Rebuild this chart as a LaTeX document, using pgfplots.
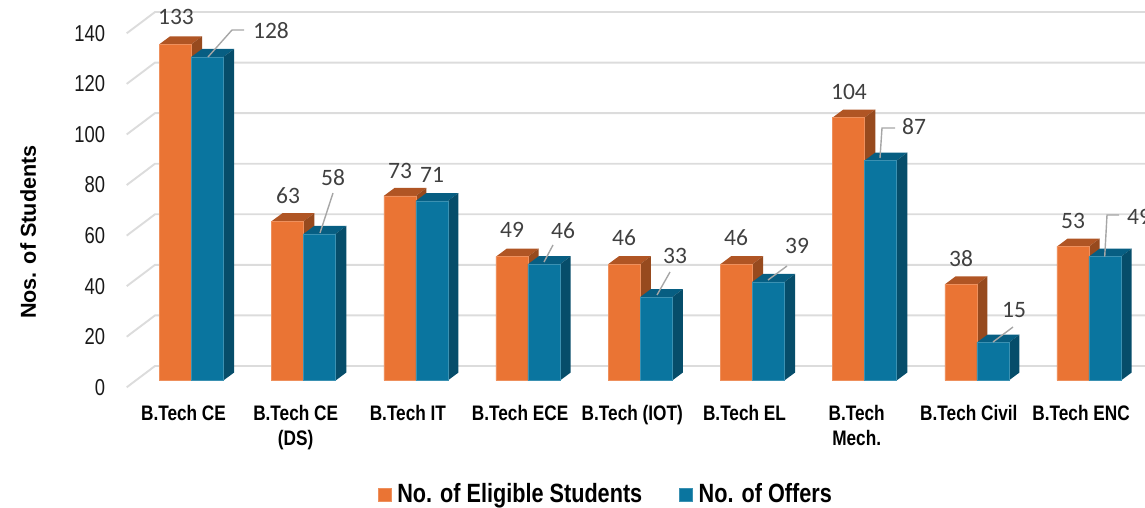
\documentclass[border=0pt]{standalone}
\usepackage{fontspec}
\usepackage{pgfplots}
\pgfplotsset{compat=1.18}
\setmainfont{Liberation Sans}
\newfontfamily\lab[FakeStretch=.82]{Liberation Sans}
\newfontfamily\tck[FakeStretch=.8]{Liberation Sans}
\newfontfamily\val{Carlito}
\definecolor{ofront}{HTML}{EA7434}
\definecolor{otop}{HTML}{B05524}
\definecolor{oside}{HTML}{974A1E}
\definecolor{bfront}{HTML}{0A759F}
\definecolor{btop}{HTML}{075E82}
\definecolor{bside}{HTML}{064D6A}
\definecolor{gridc}{HTML}{DCDCDC}
\definecolor{vtext}{HTML}{404040}
\definecolor{leader}{HTML}{A6A6A6}

\pgfplotsset{
  front/.style={ybar,bar width=0.2852,
    legend image code/.code={\fill[##1] (0pt,-7pt) rectangle (13pt,6pt);\path (17pt,0pt);}},
}
% back wall grid line with its slanted floor part
\newcommand\wall[1]{%
  \pgfmathsetmacro\ya{#1-2.69}\pgfmathsetmacro\yb{#1+5.74}%
  \edef\tmp{\noexpand\addplot[gridc,line width=1.9pt,forget plot] coordinates
    {(-0.5766,\ya) (-0.3244,\yb) (8.4991,\yb)};}\tmp}
% top and side face of one bar: index, value, shift, top colour, side colour
\newcommand\depth[5]{%
  \pgfmathsetmacro\xa{#1+#3-0.1426}\pgfmathsetmacro\xb{#1+#3+0.1426}%
  \pgfmathsetmacro\xc{\xa+0.0954}\pgfmathsetmacro\xd{\xb+0.0954}%
  \pgfmathsetmacro\yt{#2+3.16}%
  \edef\tmp{\noexpand\addplot[fill=#4,draw=none,forget plot] coordinates
    {(\xa,#2) (\xc,\yt) (\xd,\yt) (\xb,#2)} --cycle;
    \noexpand\addplot[fill=#5,draw=none,forget plot] coordinates
    {(\xb,0) (\xd,3.16) (\xd,\yt) (\xb,#2)} --cycle;}\tmp}

\begin{document}
\begin{tikzpicture}
\path[use as bounding box] (0,0) rectangle (1145pt,507pt);
\begin{axis}[
  at={(126.7pt,118.92pt)},anchor=south west,
  scale only axis,width=1018.3pt,height=388.08pt,
  xmin=-0.5766,xmax=8.4991,ymin=-3,ymax=150.5,
  clip=false,
  axis line style={draw=none},
  tick style={draw=none},
  xtick={0,...,8},
  xticklabels={B.Tech CE,{B.Tech CE\\(DS)},B.Tech IT,B.Tech ECE,B.Tech (IOT),B.Tech EL,{B.Tech\\Mech.},B.Tech Civil,B.Tech ENC},
  xticklabel style={align=center,anchor=north,xshift=-7.9pt,yshift=-13.5pt,
    font=\lab\bfseries\fontsize{21}{25}\selectfont},
  ytick={0,20,...,140},
  yticklabel style={/pgf/number format/assume math mode=true,xshift=-18pt,yshift=-6.8pt,
    font=\tck\fontsize{23}{25}\selectfont,text=black!90},
  every axis y label/.style={at={(axis description cs:-0.0969,0.402)},rotate=90,anchor=center,
    font=\bfseries\fontsize{21.6}{25}\selectfont},
  ylabel={Nos. of Students},
  legend columns=2,
  legend style={at={(axis description cs:0.4705,-0.273)},anchor=center,draw=none,fill=none,
    font=\lab\bfseries\fontsize{26.4}{28}\selectfont,
    /tikz/every even column/.append style={column sep=35pt}},
]
\wall{0}\wall{20}\wall{40}\wall{60}\wall{80}\wall{100}\wall{120}\wall{140}

\depth{0}{133}{-0.1426}{otop}{oside}
\depth{1}{63}{-0.1426}{otop}{oside}
\depth{2}{73}{-0.1426}{otop}{oside}
\depth{3}{49}{-0.1426}{otop}{oside}
\depth{4}{46}{-0.1426}{otop}{oside}
\depth{5}{46}{-0.1426}{otop}{oside}
\depth{6}{104}{-0.1426}{otop}{oside}
\depth{7}{38}{-0.1426}{otop}{oside}
\depth{8}{53}{-0.1426}{otop}{oside}
\addplot[front,bar shift=-0.1426,fill=ofront,draw=ofront!80!white,line width=.5pt]
  coordinates {(0,133) (1,63) (2,73) (3,49) (4,46) (5,46) (6,104) (7,38) (8,53)};
\addlegendentry{No. of Eligible Students}

\depth{0}{128}{0.1426}{btop}{bside}
\depth{1}{58}{0.1426}{btop}{bside}
\depth{2}{71}{0.1426}{btop}{bside}
\depth{3}{46}{0.1426}{btop}{bside}
\depth{4}{33}{0.1426}{btop}{bside}
\depth{5}{39}{0.1426}{btop}{bside}
\depth{6}{87}{0.1426}{btop}{bside}
\depth{7}{15}{0.1426}{btop}{bside}
\depth{8}{49}{0.1426}{btop}{bside}
\addplot[front,bar shift=0.1426,fill=bfront,draw=bfront!80!white,line width=.5pt]
  coordinates {(0,128) (1,58) (2,71) (3,46) (4,33) (5,39) (6,87) (7,15) (8,49)};
\addlegendentry{No. of Offers}
\end{axis}

% value labels and leader lines, in pixels of the reference
\begin{scope}[x=1pt,y=-1pt,yshift=507pt,
    v/.style={font=\val\fontsize{23.5}{25}\selectfont,text=vtext,inner sep=0pt},
    l/.style={draw=leader,line width=1.4pt}]
\draw[l] (208,57) -- (232,30) -- (244,30);
\draw[l] (320,233) -- (333,193);
\draw[l] (544,262) -- (553,245);
\draw[l] (657,295) -- (670,272);
\draw[l] (768,280) -- (787,266);
\draw[l] (880,158) -- (882,128) -- (895,128);
\draw[l] (993,342) -- (1013,327);
\draw[l] (1104.7,256.7) -- (1107,215) -- (1119,215);
\node[v] at (176,17) {133};
\node[v] at (271,31) {128};
\node[v] at (288,196) {63};
\node[v] at (333,178) {58};
\node[v] at (400,171) {73};
\node[v] at (432,175) {71};
\node[v] at (512,230) {49};
\node[v] at (563,231) {46};
\node[v] at (624,238) {46};
\node[v] at (675,256) {33};
\node[v] at (736,238) {46};
\node[v] at (797,246) {39};
\node[v] at (849,92) {104};
\node[v] at (914,127) {87};
\node[v] at (961,259) {38};
\node[v] at (1014,310) {15};
\node[v] at (1073,221) {53};
\node[v] at (1139,217) {49};
\end{scope}
\end{tikzpicture}
\end{document}
